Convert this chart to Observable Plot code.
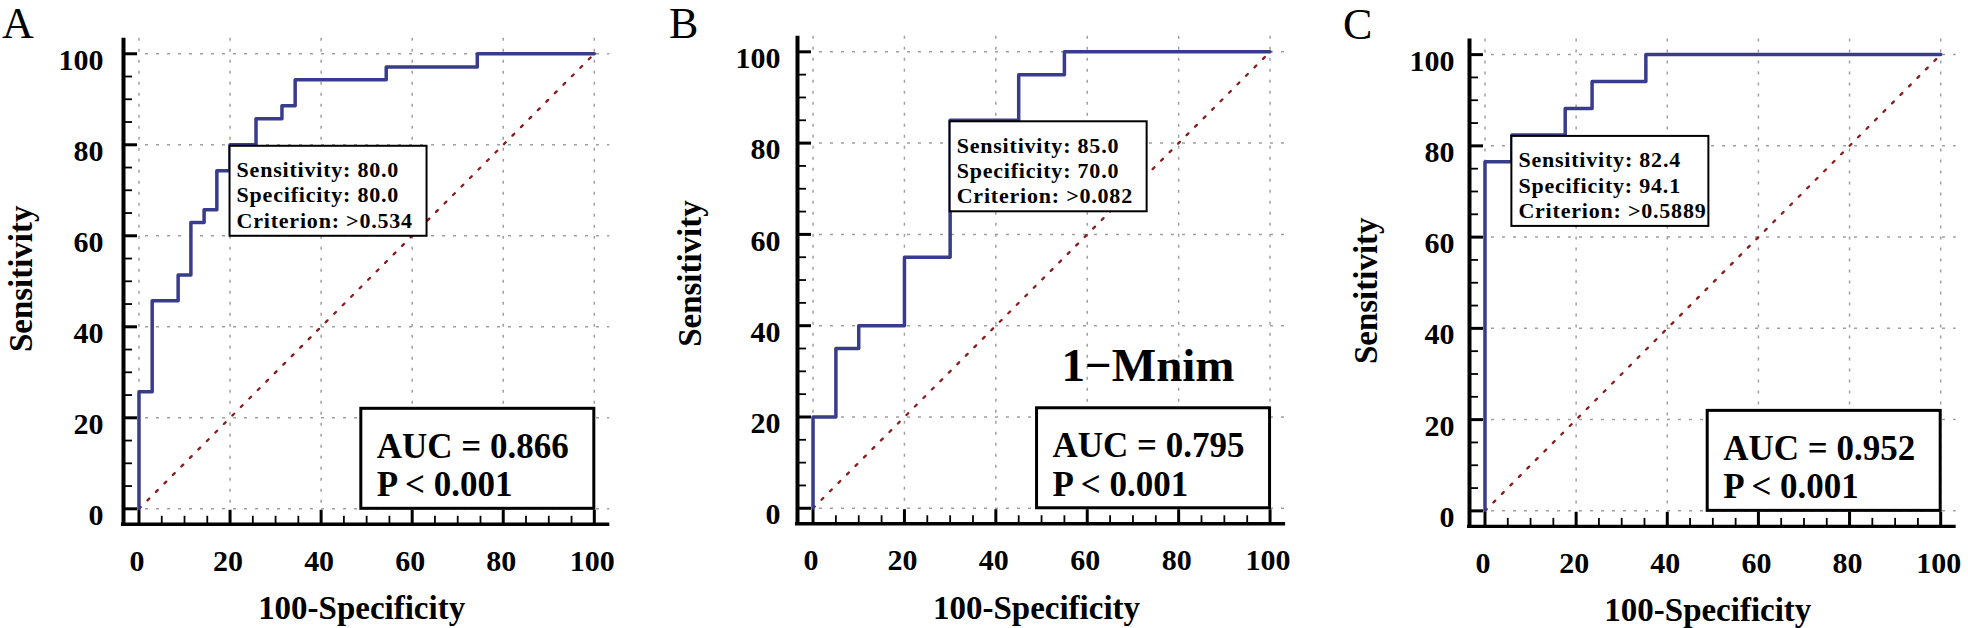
<!DOCTYPE html>
<html>
<head>
<meta charset="utf-8">
<script src="https://cdn.jsdelivr.net/npm/d3@7"></script>
<script src="https://cdn.jsdelivr.net/npm/@observablehq/plot@0.6"></script>
<style>
  html, body { margin: 0; padding: 0; background: #fff; }
  #wrap { position: relative; width: 1968px; height: 628px; overflow: hidden; background: #fff; }
  .panel { position: absolute; top: 0; }
  g[font-size="22"] text { letter-spacing: 0.8px; }
</style>
</head>
<body>
<div id="wrap"></div>
<script>
// ---------------- data ----------------
const panelLetters = ["A", "B", "C"];

// ROC step corners (100-Specificity, Sensitivity)
const fprA = [0, 0, 2.9, 8.6, 11.4, 14.3, 17.1, 20, 25.7, 31.4, 34.3, 54.3, 74.3, 100];
const tprA = [0, 25.7, 45.7, 51.4, 62.9, 65.7, 74.3, 80, 85.7, 88.6, 94.3, 97.1, 100, 100];

const fprB = [0, 0, 5, 10, 20, 30, 45, 55, 100];
const tprB = [0, 20, 35, 40, 55, 85, 95, 100, 100];

const fprC = [0, 0, 5.9, 17.6, 23.5, 35.3, 100];
const tprC = [0, 76.5, 82.4, 88.2, 94.1, 100, 100];

const diagonal = [0, 100];

// criterion (optimal cut-off) points
const critX = [20, 30, 5.9];
const critY = [80, 85, 82.4];
const critSens = ["80.0", "85.0", "82.4"];
const critSpec = ["80.0", "70.0", "94.1"];
const critValue = [">0.534", ">0.082", ">0.5889"];

const aucValues = ["0.866", "0.795", "0.952"];
const pValues = ["< 0.001", "< 0.001", "< 0.001"];
const markerLabels = ["", "1\u2212Mnim", ""];

const majorTicks = [0, 20, 40, 60, 80, 100];
const minorTicks = [5, 10, 15, 25, 30, 35, 45, 50, 55, 65, 70, 75, 85, 90, 95];
const xTitle = "100-Specificity";
const yTitle = "Sensitivity";

// ---------------- layout ----------------
const FONT = "'Liberation Serif', 'Times New Roman', Times, serif";
const CURVE = "#393C8C";
const DIAG = "#8B1A1A";
const GRID = "#a0a0a0";
const ML = 150, MR = 40;
const LO = -3.4, HI = 103.4;

const frames = [
  {L: 123.2, R: 609.5, T: 37.8, B: 523.8, ylabGap: 20, yTitleGap: 91.5, yTitleDy: -2.5, letterDx: -121.5, letterDy: -14.6},
  {L: 796.9, R: 1285.0, T: 35.8, B: 523.3, ylabGap: 17, yTitleGap: 96.9, yTitleDy: -6.5, letterDx: -128.5, letterDy: -11.9},
  {L: 1469.1, R: 1955.8, T: 38.6, B: 525.9, ylabGap: 15, yTitleGap: 92.5, yTitleDy: 8, letterDx: -126.4, letterDy: -13.7}
];

const curves = [[fprA, tprA], [fprB, tprB], [fprC, tprC]];

function makePanel(i) {
  const f = frames[i];
  const fw = f.R - f.L, fh = f.B - f.T;
  const [fpr, tpr] = curves[i];
  const marks = [
    Plot.ruleY(majorTicks, {y: d => d, stroke: GRID, strokeWidth: 1.5, strokeDasharray: "3,8"}),
    Plot.ruleX(majorTicks, {x: d => d, stroke: GRID, strokeWidth: 1.5, strokeDasharray: "3,8"}),
    Plot.line(diagonal, {x: d => d, y: d => d, stroke: DIAG, strokeWidth: 2.3, strokeDasharray: "2.5,9.5"}),
    Plot.line(tpr, {x: fpr, y: tpr, curve: "step-after", stroke: CURVE, strokeWidth: 3.5}),
    // criterion box
    Plot.rect([i], {x1: () => critX[i], x2: () => critX[i], y1: () => critY[i], y2: () => critY[i],
      insetTop: 1.5, insetRight: -197, insetBottom: -91.5, fill: "white", stroke: "black", strokeWidth: 2}),
    Plot.text([i], {x: () => critX[i], y: () => critY[i],
      text: () => `Sensitivity: ${critSens[i]}\nSpecificity: ${critSpec[i]}\nCriterion: ${critValue[i]}`,
      textAnchor: "start", lineAnchor: "top", dx: 6.5, dy: 14.6, lineHeight: 1.145,
      fontSize: 22, fontWeight: "bold", fill: "black"}),
    // AUC box
    Plot.rect([i], {x1: () => 100, x2: () => 100, y1: () => 0, y2: () => 0,
      insetLeft: -233, insetTop: -100, fill: "white", stroke: "black", strokeWidth: 3}),
    Plot.text([i], {x: () => 100, y: () => 0,
      text: () => `AUC = ${aucValues[i]}\nP ${pValues[i]}`,
      textAnchor: "start", lineAnchor: "top", dx: -233 + 15.5, dy: -78.4, lineHeight: 1.1,
      fontSize: 35, fontWeight: "bold", fill: "black"}),
    // ticks (inward)
    Plot.tickY(minorTicks, {y: d => d, stroke: "black", strokeWidth: 1.8, insetRight: fw - 9}),
    Plot.tickY(majorTicks, {y: d => d, stroke: "black", strokeWidth: 3, insetRight: fw - 14}),
    Plot.tickX(minorTicks, {x: d => d, stroke: "black", strokeWidth: 1.8, insetTop: fh - 8}),
    Plot.tickX(majorTicks, {x: d => d, stroke: "black", strokeWidth: 3, insetTop: fh - 14}),
    // axis lines
    Plot.ruleX([LO], {x: d => d, stroke: "black", strokeWidth: 4, insetBottom: -1.7}),
    Plot.ruleY([LO], {y: d => d, stroke: "black", strokeWidth: 3.4, insetLeft: -2}),
    // tick labels
    Plot.text(majorTicks, {x: () => LO, y: d => d, text: d => String(d), textAnchor: "end", lineAnchor: "middle",
      dx: -f.ylabGap, dy: 6.5, fontSize: 30, fontWeight: "bold", fill: "black"}),
    Plot.text(majorTicks, {x: d => d, y: () => LO, text: d => String(d), textAnchor: "middle", lineAnchor: "middle",
      dx: -2, dy: 37, fontSize: 30, fontWeight: "bold", fill: "black"}),
    // axis titles
    Plot.text([xTitle], {frameAnchor: "bottom", text: d => d, textAnchor: "middle", lineAnchor: "middle",
      dx: -5, dy: 84.4, fontSize: 33, fontWeight: "bold", fill: "black"}),
    Plot.text([yTitle], {frameAnchor: "left", text: d => d, textAnchor: "middle", lineAnchor: "middle", rotate: -90,
      dx: -(f.yTitleGap + 10.6), dy: f.yTitleDy, fontSize: 33, fontWeight: "bold", fill: "black"}),
    // panel letter
    Plot.text([panelLetters[i]], {frameAnchor: "top-left", text: d => d, textAnchor: "start", lineAnchor: "middle",
      dx: f.letterDx, dy: f.letterDy, fontSize: 44, fontWeight: "normal", fill: "black"})
  ];
  if (markerLabels[i]) {
    marks.push(Plot.text([markerLabels[i]], {x: () => 73.3, y: () => 31.1, text: d => d, textAnchor: "middle",
      lineAnchor: "middle", fontSize: 47, fontWeight: "bold", fill: "black"}));
  }
  const svg = Plot.plot({
    width: ML + fw + MR,
    height: 628,
    marginLeft: ML, marginRight: MR, marginTop: f.T, marginBottom: 628 - f.B,
    x: {domain: [LO, HI], axis: null},
    y: {domain: [LO, HI], axis: null},
    style: {fontFamily: FONT, background: "transparent", maxWidth: "none", overflow: "visible"},
    marks
  });
  const div = document.createElement("div");
  div.className = "panel";
  div.style.left = (f.L - ML) + "px";
  div.appendChild(svg);
  document.getElementById("wrap").appendChild(div);
}

[0, 1, 2].forEach(makePanel);
</script>
</body>
</html>
